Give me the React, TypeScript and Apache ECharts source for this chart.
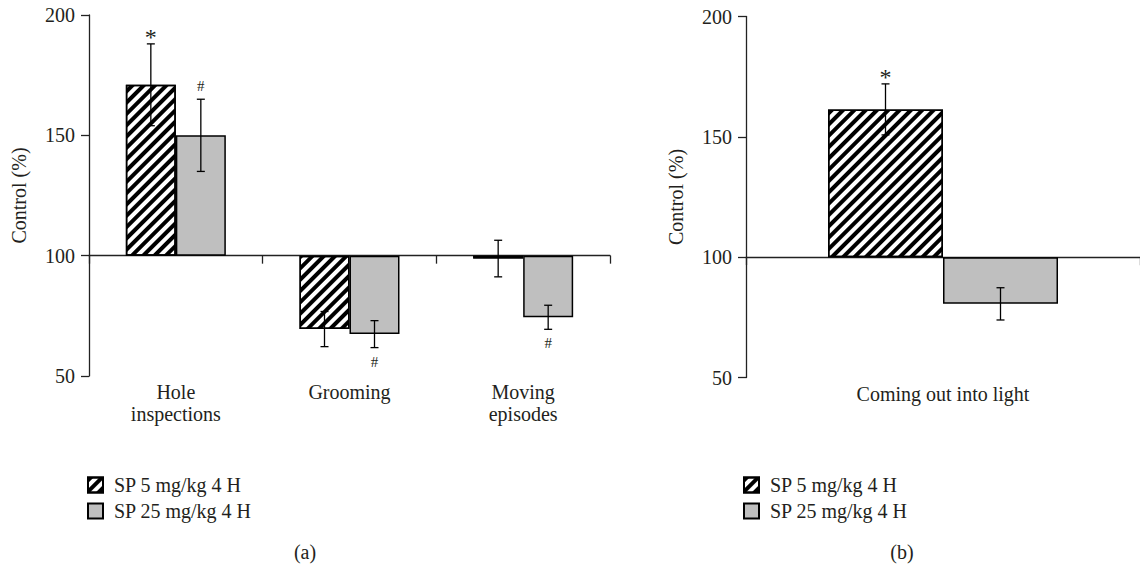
import React, { useEffect, useRef } from "react";
import * as echarts from "echarts";

// ---- data ----
const BASE = 100;
const categoriesA = ["Hole\ninspections", "Grooming", "Moving\nepisodes"];
const sp5A = [171, 69.5, 98.8];
const sp5ErrA = [17, 7.3, 7.6];
const sp5MarkA = ["*", "", ""];
const sp25A = [150, 67.4, 74.4];
const sp25ErrA = [15, 5.6, 5];
const sp25MarkA = ["#", "#", "#"];

const categoriesB = ["Coming out into light"];
const sp5B = [161.4];
const sp5ErrB = [10.6];
const sp5MarkB = ["*"];
const sp25B = [80.6];
const sp25ErrB = [6.7];
const sp25MarkB = [""];

const yMin = 50;
const yMax = 200;
const yStep = 50;
const seriesNames = ["SP 5 mg/kg 4 H", "SP 25 mg/kg 4 H"];
const panelLabels = ["(a)", "(b)"];

const FONT = "'Liberation Serif', 'Times New Roman', serif";
const INK = "#231f20";
const GRAY = "#bfbfbf";

const hatch = {
  symbol: "rect",
  symbolSize: 1,
  color: "#000",
  backgroundColor: "#fff",
  dashArrayX: [1, 0],
  dashArrayY: [3.5, 3.5],
  rotation: -Math.PI / 4,
};

function errRenderer(offset: number, marks: string[]) {
  return (params: any, api: any) => {
    const cat = api.value(0);
    const mean = api.value(1);
    const err = api.value(2);
    const hi = api.coord([cat, mean + err]);
    const lo = api.coord([cat, mean - err]);
    const x = hi[0] + offset;
    const cap = 4;
    const ls = { stroke: "#000", lineWidth: 1.3 };
    const children: any[] = [
      { type: "line", shape: { x1: x, y1: hi[1], x2: x, y2: lo[1] }, style: ls },
      { type: "line", shape: { x1: x - cap, y1: hi[1], x2: x + cap, y2: hi[1] }, style: ls },
      { type: "line", shape: { x1: x - cap, y1: lo[1], x2: x + cap, y2: lo[1] }, style: ls },
    ];
    const m = marks[params.dataIndex];
    if (m) {
      const up = mean >= 0;
      const isStar = m === "*";
      children.push({
        type: "text",
        x,
        y: up ? hi[1] - (isStar ? 7 : 13) : lo[1] + 14,
        style: {
          text: m,
          align: "center",
          verticalAlign: "middle",
          fontFamily: FONT,
          fontSize: isStar ? 24 : 15,
          fill: INK,
        },
      });
    }
    return { type: "group", children };
  };
}

function panelSeries(
  gridIdx: number,
  barWidth: number,
  v5: number[],
  e5: number[],
  m5: string[],
  v25: number[],
  e25: number[],
  m25: string[]
) {
  return [
    {
      name: seriesNames[0],
      type: "bar",
      xAxisIndex: gridIdx * 2,
      yAxisIndex: gridIdx,
      barWidth,
      barGap: "0%",
      data: v5.map((v) => v - BASE),
      itemStyle: { color: "#fff", borderColor: "#000", borderWidth: 1.5, decal: hatch },
      z: 2,
    },
    {
      name: seriesNames[1],
      type: "bar",
      xAxisIndex: gridIdx * 2,
      yAxisIndex: gridIdx,
      barWidth,
      barGap: "0%",
      data: v25.map((v) => v - BASE),
      itemStyle: { color: GRAY, borderColor: "#000", borderWidth: 1.5 },
      z: 2,
    },
    {
      type: "custom",
      xAxisIndex: gridIdx * 2,
      yAxisIndex: gridIdx,
      renderItem: errRenderer(-barWidth / 2, m5),
      data: v5.map((v, i) => [i, v - BASE, e5[i]]),
      encode: { x: 0, y: 1 },
      z: 5,
    },
    {
      type: "custom",
      xAxisIndex: gridIdx * 2,
      yAxisIndex: gridIdx,
      renderItem: errRenderer(barWidth / 2, m25),
      data: v25.map((v, i) => [i, v - BASE, e25[i]]),
      encode: { x: 0, y: 1 },
      z: 5,
    },
  ];
}

function xAxes(gridIndex: number, cats: string[]) {
  return [
    {
      type: "category",
      gridIndex,
      data: cats,
      axisLine: { onZero: true, lineStyle: { color: "#222", width: 1.3 } },
      axisTick: { show: true, length: 8, lineStyle: { color: "#222", width: 1.3 } },
      axisLabel: { show: false },
      splitLine: { show: false },
    },
    {
      type: "category",
      gridIndex,
      data: cats,
      position: "bottom",
      axisLine: { show: false, onZero: false },
      axisTick: { show: false },
      axisLabel: {
        margin: 5,
        fontFamily: FONT,
        fontSize: 20,
        lineHeight: 22,
        color: INK,
        interval: 0,
      },
    },
  ];
}

function yAxis(gridIndex: number) {
  return {
    type: "value",
    gridIndex,
    min: yMin - BASE,
    max: yMax - BASE,
    interval: yStep,
    name: "Control (%)",
    nameLocation: "middle",
    nameRotate: 90,
    nameGap: 60,
    nameTextStyle: { fontFamily: FONT, fontSize: 20, color: INK },
    axisLine: { show: true, lineStyle: { color: "#222", width: 1.3 } },
    axisTick: { show: true, length: 8, lineStyle: { color: "#222", width: 1.3 } },
    axisLabel: {
      margin: 14,
      fontFamily: FONT,
      fontSize: 20,
      color: INK,
      formatter: (v: number) => String(v + BASE),
    },
    splitLine: { show: false },
  };
}

function legend(left: number) {
  return {
    left,
    top: 470,
    orient: "vertical",
    icon: "rect",
    itemWidth: 15,
    itemHeight: 15,
    itemGap: 6,
    selectedMode: false,
    data: seriesNames,
    textStyle: { fontFamily: FONT, fontSize: 20, color: INK, padding: [0, 0, 0, 6] },
  };
}

export default function App() {
  const ref = useRef<HTMLDivElement>(null);
  useEffect(() => {
    if (!ref.current) return;
    const chart = echarts.init(ref.current, null, { renderer: "svg" });
    chart.setOption({
      animation: false,
      backgroundColor: "#fff",
      grid: [
        { left: 89, top: 15, width: 521, height: 361 },
        { left: 746, top: 16.5, width: 402, height: 361 },
      ],
      xAxis: [...xAxes(0, categoriesA), ...xAxes(1, categoriesB)],
      yAxis: [yAxis(0), yAxis(1)],
      legend: [legend(82), legend(738)],
      series: [
        ...panelSeries(0, 50, sp5A, sp5ErrA, sp5MarkA, sp25A, sp25ErrA, sp25MarkA),
        ...panelSeries(1, 115, sp5B, sp5ErrB, sp5MarkB, sp25B, sp25ErrB, sp25MarkB),
      ],
      graphic: [
        {
          type: "text",
          x: 305,
          y: 552,
          style: { text: panelLabels[0], align: "center", verticalAlign: "middle", fontFamily: FONT, fontSize: 20, fill: INK },
        },
        {
          type: "text",
          x: 902,
          y: 552,
          style: { text: panelLabels[1], align: "center", verticalAlign: "middle", fontFamily: FONT, fontSize: 20, fill: INK },
        },
      ],
    });
    return () => chart.dispose();
  }, []);
  return (
    <div
      ref={ref}
      style={{ position: "fixed", left: 0, top: 0, width: 1140, height: 566, background: "#fff" }}
    />
  );
}
